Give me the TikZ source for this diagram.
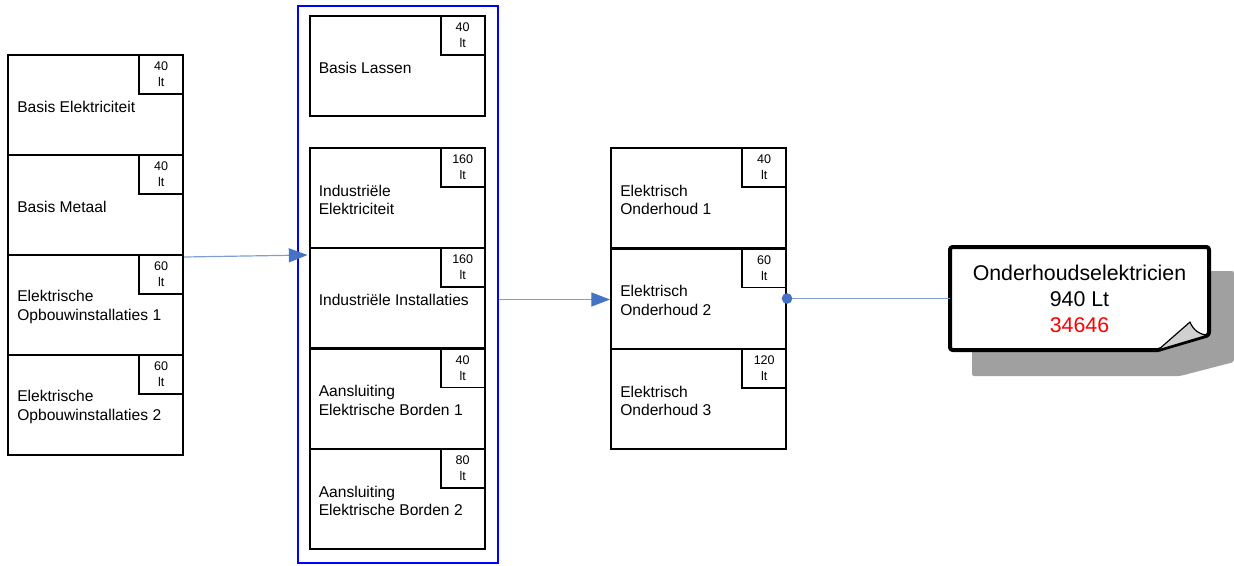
\documentclass[tikz,border=0pt]{standalone}
\usepackage{fontspec}
\setmainfont{Liberation Sans}
\usetikzlibrary{arrows.meta,calc}
\definecolor{conn}{HTML}{7F9FD4}
\definecolor{tipblue}{HTML}{4472C4}
\definecolor{shadowgray}{RGB}{160,160,160}
\definecolor{foldgray}{RGB}{208,208,208}
\tikzset{
  cbox/.style={draw=black, line width=1.5pt, minimum width=131.25pt, minimum height=75pt, inner sep=0pt},
  hbox/.style={draw=black, line width=1.2pt, minimum width=33pt, minimum height=29.25pt, inner sep=0pt,
    align=center, font=\fontsize{9.4}{12}\selectfont},
  ctext/.style={inner sep=0pt, align=left, font=\fontsize{11.7}{14}\selectfont},
  frame/.style={draw=blue, line width=1.5pt, minimum width=150pt, minimum height=417.75pt, inner sep=0pt},
  conline/.style={draw=conn, line width=0.9pt},
  contip/.style={-{Triangle[length=14pt,width=10.5pt,fill=tipblue,color=tipblue]}},
}
\newcommand\course[5]{%
  \node[cbox] (#1) at (#2,#3) {};
  \node[hbox, anchor=north east] (#1h) at (#1.north east) {#5\\lt};
  \node[ctext, anchor=west] (#1t) at ([xshift=7.5pt,yshift=-1.5pt]#1.west) {#4};
}
\begin{document}
\begin{tikzpicture}[x=0.75pt,y=-0.75pt]
\useasboundingbox (0,0) rectangle (1234,565);
% left column
\course{lc1}{95.5}{105}{Basis Elektriciteit}{40}
\course{lc2}{95.5}{205}{Basis Metaal}{40}
\course{lc3}{95.5}{305}{Elektrische\\Opbouwinstallaties 1}{60}
\course{lc4}{95.5}{405}{Elektrische\\Opbouwinstallaties 2}{60}
% middle column
\node[frame] (frm) at (398,284.5) {};
\course{bl}{397}{66}{Basis Lassen}{40}
\course{ie}{397}{198}{Industriële\\Elektriciteit}{160}
\course{ii}{397}{298}{Industriële Installaties}{160}
\course{ab1}{397}{398.5}{Aansluiting\\Elektrische Borden 1}{40}
\course{ab2}{397}{499}{Aansluiting\\Elektrische Borden 2}{80}
% right column
\course{eo1}{698.5}{198}{Elektrisch\\Onderhoud 1}{40}
\course{eo2}{698.5}{298.5}{Elektrisch\\Onderhoud 2}{60}
\course{eo3}{698.5}{399}{Elektrisch\\Onderhoud 3}{120}
% note with shadow
\fill[shadowgray, rounded corners=1.5pt] (972,271) -- (1234,271) -- (1234,362) -- (1180,376) -- (972,376) -- cycle;
\fill[white] (950,247) -- (1209,247) -- (1209,335) -- (1158,350) -- (950,350) -- cycle;
\draw[line width=3pt, rounded corners=2pt, line join=round] (1158,350) -- (950,350) -- (950,247) -- (1209,247) -- (1209,335) -- (1158,350);
\filldraw[fill=foldgray, draw=black, line width=0.9pt, line join=round] (1158,350) -- (1190,322) .. controls (1193,330) and (1200,335) .. (1208,335) -- cycle;
\node[inner sep=0pt, minimum width=194pt, minimum height=77pt, align=center,
  font=\fontsize{16}{19.5}\selectfont] (note) at (1079.5,298.5)
  {Onderhoudselektricien\\940 Lt\\\textcolor{red}{34646}};
% connectors
\coordinate (a1s) at ([yshift=-0.75pt]lc2.south east);
\coordinate (a1e) at ([xshift=-0.75pt,yshift=-4.5pt]ie.south west);
\draw[conline, contip] (a1s) -- (a1e);
\coordinate (a2s) at ([yshift=-11.25pt]frm.east);
\draw[conline, contip] (a2s) -- (a2s -| eo2.west);
\draw[conline] (eo2.east) -- (eo2.east -| note.west);
\fill[tipblue] (eo2.east) circle[radius=4pt];
\end{tikzpicture}
\end{document}
